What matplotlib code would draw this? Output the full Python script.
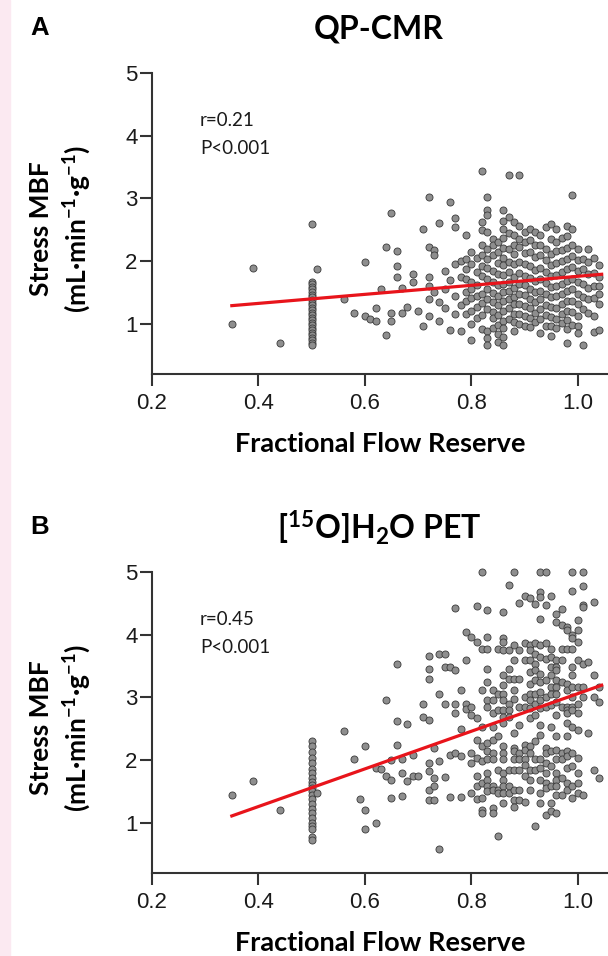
import matplotlib
matplotlib.use("Agg")
import numpy as np
import matplotlib.pyplot as plt
from matplotlib.patches import Rectangle

plt.rcParams["mathtext.fontset"] = "custom"
plt.rcParams["mathtext.rm"] = "Lato:bold"
plt.rcParams["mathtext.it"] = "Lato:bold:italic"
plt.rcParams["mathtext.bf"] = "Lato:bold"

# ── data: (FFR, stress MBF) ──
qp_points = [
    (0.35, 1.00), (0.39, 1.89), (0.44, 0.70),
    (0.50, 2.60), (0.50, 1.67), (0.50, 1.63), (0.50, 1.59), (0.50, 1.55), (0.50, 1.50),
    (0.50, 1.46), (0.50, 1.42), (0.50, 1.38), (0.50, 1.34), (0.50, 1.30), (0.50, 1.26),
    (0.50, 1.22), (0.50, 1.18), (0.50, 1.14), (0.50, 1.10), (0.50, 1.06), (0.50, 1.02),
    (0.50, 0.98), (0.50, 0.94), (0.50, 0.90), (0.50, 0.86), (0.50, 0.82), (0.50, 0.78),
    (0.50, 0.74), (0.50, 0.70), (0.50, 0.67), (0.51, 1.88),
    (0.56, 1.39), (0.58, 1.17), (0.60, 1.99), (0.60, 1.12), (0.61, 1.08), (0.62, 1.26),
    (0.62, 1.05), (0.63, 1.55), (0.64, 0.82), (0.64, 2.22), (0.65, 2.76), (0.65, 1.18),
    (0.65, 1.05), (0.66, 2.16), (0.66, 1.93), (0.66, 1.75), (0.67, 1.57), (0.67, 1.17),
    (0.68, 1.27), (0.69, 1.80), (0.69, 1.66), (0.70, 1.20), (0.71, 0.96), (0.71, 2.52),
    (0.72, 3.02), (0.72, 2.23), (0.72, 1.75), (0.72, 1.60), (0.72, 1.40), (0.72, 1.13),
    (0.73, 2.17), (0.73, 2.10), (0.73, 1.50), (0.74, 2.61), (0.74, 1.35), (0.74, 1.05),
    (0.75, 1.84), (0.75, 1.55), (0.75, 1.25), (0.76, 2.94), (0.76, 1.70), (0.76, 0.90),
    (0.77, 2.68), (0.77, 2.54), (0.77, 1.95), (0.77, 1.45), (0.77, 1.15), (0.78, 2.00),
    (0.78, 1.75), (0.78, 1.30), (0.78, 0.88),
    (0.79, 2.41), (0.79, 2.04), (0.79, 1.88), (0.79, 1.72), (0.79, 1.51), (0.79, 1.36), (0.79, 1.15),
    (0.80, 2.14), (0.80, 1.95), (0.80, 1.67), (0.80, 1.56), (0.80, 1.41), (0.80, 1.20),
    (0.80, 0.99), (0.80, 0.75),
    (0.81, 2.05), (0.81, 1.83), (0.81, 1.62), (0.81, 1.44), (0.81, 1.27), (0.81, 1.09),
    (0.82, 3.44), (0.82, 2.63), (0.82, 2.50), (0.82, 2.26), (0.82, 2.10), (0.82, 1.93),
    (0.82, 1.77), (0.82, 1.47), (0.82, 1.33), (0.82, 1.14), (0.82, 0.92),
    (0.83, 3.02), (0.83, 2.81), (0.83, 2.73), (0.83, 2.47), (0.83, 2.20), (0.83, 2.04),
    (0.83, 1.89), (0.83, 1.72), (0.83, 1.55), (0.83, 1.40), (0.83, 1.23), (0.83, 0.88),
    (0.83, 0.78), (0.83, 0.67),
    (0.84, 2.35), (0.84, 2.25), (0.84, 2.09), (0.84, 1.84), (0.84, 1.66), (0.84, 1.49),
    (0.84, 1.35), (0.84, 1.19), (0.84, 1.10), (0.84, 0.93),
    (0.85, 2.31), (0.85, 2.15), (0.85, 1.97), (0.85, 1.79), (0.85, 1.62), (0.85, 1.45),
    (0.85, 1.30), (0.85, 1.14), (0.85, 0.98), (0.85, 0.84), (0.85, 0.71),
    (0.86, 2.81), (0.86, 2.64), (0.86, 2.52), (0.86, 2.37), (0.86, 2.21), (0.86, 2.05),
    (0.86, 1.94), (0.86, 1.78), (0.86, 1.63), (0.86, 1.50), (0.86, 1.36), (0.86, 1.21),
    (0.86, 1.04), (0.86, 0.94), (0.86, 0.79), (0.86, 0.66),
    (0.87, 3.37), (0.87, 2.70), (0.87, 2.45), (0.87, 2.19), (0.87, 1.99), (0.87, 1.83),
    (0.87, 1.66), (0.87, 1.52), (0.87, 1.40), (0.87, 1.25), (0.87, 1.08),
    (0.88, 2.63), (0.88, 2.41), (0.88, 2.26), (0.88, 2.12), (0.88, 1.96), (0.88, 1.74),
    (0.88, 1.57), (0.88, 1.43), (0.88, 1.31), (0.88, 1.16), (0.88, 1.03), (0.88, 0.89),
    (0.89, 3.37), (0.89, 2.56), (0.89, 2.36), (0.89, 2.22), (0.89, 1.98), (0.89, 1.81),
    (0.89, 1.64), (0.89, 1.47), (0.89, 1.31), (0.89, 1.15), (0.89, 1.00),
    (0.90, 2.46), (0.90, 2.30), (0.90, 2.13), (0.90, 1.95), (0.90, 1.77), (0.90, 1.62),
    (0.90, 1.46), (0.90, 1.29), (0.90, 1.12), (0.90, 0.97),
    (0.91, 2.51), (0.91, 2.33), (0.91, 2.15), (0.91, 1.92), (0.91, 1.73), (0.91, 1.56),
    (0.91, 1.40), (0.91, 1.26), (0.91, 1.09), (0.91, 0.95),
    (0.92, 2.47), (0.92, 2.25), (0.92, 2.06), (0.92, 1.86), (0.92, 1.68), (0.92, 1.51),
    (0.92, 1.35), (0.92, 1.18), (0.92, 1.03),
    (0.93, 2.42), (0.93, 2.26), (0.93, 2.10), (0.93, 1.89), (0.93, 1.71), (0.93, 1.53),
    (0.93, 1.39), (0.93, 1.24), (0.93, 1.08), (0.93, 0.85),
    (0.94, 2.55), (0.94, 2.19), (0.94, 2.01), (0.94, 1.83), (0.94, 1.65), (0.94, 1.47),
    (0.94, 1.30), (0.94, 1.14), (0.94, 0.97),
    (0.95, 2.60), (0.95, 2.35), (0.95, 2.12), (0.95, 1.94), (0.95, 1.76), (0.95, 1.58),
    (0.95, 1.43), (0.95, 1.27), (0.95, 1.11), (0.95, 0.96), (0.95, 0.80),
    (0.96, 2.52), (0.96, 2.31), (0.96, 2.16), (0.96, 1.97), (0.96, 1.78), (0.96, 1.61),
    (0.96, 1.44), (0.96, 1.25), (0.96, 1.07), (0.96, 0.93),
    (0.97, 2.37), (0.97, 2.17), (0.97, 2.00), (0.97, 1.82), (0.97, 1.63), (0.97, 1.48),
    (0.97, 1.32), (0.97, 1.16), (0.97, 1.01),
    (0.98, 2.56), (0.98, 2.40), (0.98, 2.21), (0.98, 2.03), (0.98, 1.87), (0.98, 1.69),
    (0.98, 1.52), (0.98, 1.37), (0.98, 1.21), (0.98, 1.06), (0.98, 0.91), (0.98, 0.70),
    (0.99, 3.06), (0.99, 2.52), (0.99, 2.26), (0.99, 2.08), (0.99, 1.90), (0.99, 1.72),
    (0.99, 1.55), (0.99, 1.36), (0.99, 1.19), (0.99, 0.98),
    (1.00, 2.19), (1.00, 2.01), (1.00, 1.84), (1.00, 1.66), (1.00, 1.47), (1.00, 1.31),
    (1.00, 1.13), (1.00, 0.97), (1.00, 0.86),
    (1.01, 2.04), (1.01, 1.88), (1.01, 1.63), (1.01, 1.42), (1.01, 1.23), (1.01, 0.67),
    (1.02, 2.20), (1.02, 1.99), (1.02, 1.79), (1.02, 1.57), (1.02, 1.39), (1.02, 1.18),
    (1.03, 2.05), (1.03, 1.81), (1.03, 1.61), (1.03, 1.41), (1.03, 1.13), (1.03, 0.87),
    (1.04, 1.94), (1.04, 1.75), (1.04, 1.60), (1.04, 1.47), (1.04, 1.31), (1.04, 0.90),
]

pet_points = [
    (0.35, 1.44), (0.39, 1.66), (0.44, 1.21),
    (0.50, 2.30), (0.50, 2.22), (0.50, 2.13), (0.50, 2.04), (0.50, 1.95), (0.50, 1.86),
    (0.50, 1.80), (0.50, 1.72), (0.50, 1.65), (0.50, 1.60), (0.50, 1.55), (0.50, 1.50),
    (0.50, 1.45), (0.50, 1.38), (0.50, 1.30), (0.50, 1.22), (0.50, 1.15), (0.50, 1.07),
    (0.50, 1.00), (0.50, 0.95), (0.50, 0.90), (0.50, 0.78), (0.50, 0.72), (0.51, 1.48),
    (0.56, 2.46), (0.58, 2.02), (0.59, 1.38), (0.60, 2.23), (0.60, 1.20), (0.60, 0.90),
    (0.62, 1.00), (0.62, 1.87), (0.63, 1.86), (0.64, 2.96), (0.64, 1.75), (0.65, 2.00),
    (0.65, 1.69), (0.65, 1.40), (0.66, 3.53), (0.66, 2.63), (0.66, 2.24), (0.67, 2.02),
    (0.67, 1.80), (0.67, 1.42), (0.68, 2.57), (0.68, 1.67), (0.69, 2.08), (0.69, 1.74),
    (0.70, 1.75), (0.71, 2.90), (0.71, 2.69), (0.72, 2.64), (0.72, 3.66), (0.72, 3.46),
    (0.72, 3.30), (0.72, 1.96), (0.72, 1.82), (0.72, 1.53), (0.72, 1.37), (0.73, 2.19),
    (0.73, 1.71), (0.73, 1.58), (0.73, 1.37), (0.74, 3.05), (0.74, 1.98), (0.74, 0.58),
    (0.74, 3.70), (0.75, 3.70), (0.75, 2.90), (0.75, 1.73), (0.75, 3.49), (0.76, 3.49),
    (0.76, 2.08), (0.76, 1.41),
    (0.77, 4.43), (0.77, 3.43), (0.77, 2.90), (0.77, 2.75), (0.77, 2.11),
    (0.78, 3.12), (0.78, 2.49), (0.78, 2.06), (0.78, 1.41),
    (0.79, 4.04), (0.79, 3.59), (0.79, 2.90), (0.79, 2.81),
    (0.80, 3.96), (0.80, 2.85), (0.80, 2.72), (0.80, 2.11), (0.80, 1.95), (0.80, 1.48),
    (0.81, 4.45), (0.81, 3.88), (0.81, 2.67), (0.81, 2.32), (0.81, 2.03), (0.81, 1.74),
    (0.81, 1.58), (0.81, 1.38),
    (0.82, 5.00), (0.82, 3.78), (0.82, 3.12), (0.82, 2.53), (0.82, 2.22), (0.82, 1.98),
    (0.82, 1.63), (0.82, 1.40), (0.82, 1.21), (0.82, 1.16),
    (0.83, 4.39), (0.83, 3.97), (0.83, 3.78), (0.83, 3.46), (0.83, 3.25), (0.83, 2.96),
    (0.83, 2.85), (0.83, 2.27), (0.83, 2.14), (0.83, 2.01), (0.83, 1.79), (0.83, 1.69),
    (0.83, 1.58), (0.83, 1.50),
    (0.84, 3.12), (0.84, 2.96), (0.84, 2.75), (0.84, 2.53), (0.84, 2.32), (0.84, 2.11),
    (0.84, 2.01), (0.84, 1.58), (0.84, 1.53), (0.84, 1.24), (0.84, 1.16),
    (0.85, 3.77), (0.85, 3.06), (0.85, 2.80), (0.85, 2.38), (0.85, 1.85), (0.85, 1.53),
    (0.85, 1.48), (0.85, 0.79),
    (0.86, 4.36), (0.86, 3.95), (0.86, 3.88), (0.86, 3.75), (0.86, 3.35), (0.86, 3.20),
    (0.86, 3.06), (0.86, 2.96), (0.86, 2.80), (0.86, 2.69), (0.86, 2.59), (0.86, 2.22),
    (0.86, 2.11), (0.86, 2.01), (0.86, 1.79), (0.86, 1.69), (0.86, 1.58), (0.86, 1.48), (0.86, 1.32),
    (0.87, 4.80), (0.87, 3.76), (0.87, 3.46), (0.87, 3.30), (0.87, 2.90), (0.87, 2.80),
    (0.87, 2.69), (0.87, 1.85), (0.87, 1.58), (0.87, 1.48),
    (0.88, 5.00), (0.88, 3.83), (0.88, 3.59), (0.88, 3.30), (0.88, 3.12), (0.88, 2.98),
    (0.88, 2.43), (0.88, 2.19), (0.88, 2.14), (0.88, 2.01), (0.88, 1.85), (0.88, 1.53),
    (0.88, 1.37), (0.88, 1.26),
    (0.89, 4.50), (0.89, 3.75), (0.89, 3.30), (0.89, 2.85), (0.89, 2.56), (0.89, 2.11),
    (0.89, 2.01), (0.89, 1.85), (0.89, 1.53), (0.89, 1.37),
    (0.90, 4.62), (0.90, 3.86), (0.90, 3.59), (0.90, 3.01), (0.90, 2.85), (0.90, 2.24),
    (0.90, 2.16), (0.90, 2.01), (0.90, 1.93), (0.90, 1.74), (0.90, 1.34),
    (0.91, 4.59), (0.91, 3.83), (0.91, 3.75), (0.91, 3.59), (0.91, 3.41), (0.91, 3.22),
    (0.91, 3.06), (0.91, 2.96), (0.91, 2.83), (0.91, 2.67), (0.91, 2.22), (0.91, 2.11),
    (0.91, 1.85), (0.91, 1.69), (0.91, 1.53),
    (0.92, 4.49), (0.92, 3.86), (0.92, 3.70), (0.92, 3.54), (0.92, 3.43), (0.92, 3.28),
    (0.92, 3.06), (0.92, 2.90), (0.92, 2.72), (0.92, 2.30), (0.92, 2.01), (0.92, 1.85), (0.92, 0.95),
    (0.93, 5.00), (0.93, 4.68), (0.93, 4.60), (0.93, 4.25), (0.93, 3.83), (0.93, 3.65),
    (0.93, 3.38), (0.93, 3.25), (0.93, 3.09), (0.93, 2.96), (0.93, 2.83), (0.93, 2.56),
    (0.93, 2.40), (0.93, 2.01), (0.93, 1.87), (0.93, 1.69), (0.93, 1.48), (0.93, 1.32),
    (0.94, 5.00), (0.94, 4.47), (0.94, 3.86), (0.94, 3.62), (0.94, 3.28), (0.94, 3.01),
    (0.94, 2.85), (0.94, 2.19), (0.94, 2.11), (0.94, 1.95), (0.94, 1.79), (0.94, 1.63),
    (0.94, 1.56), (0.94, 1.13),
    (0.95, 4.62), (0.95, 3.78), (0.95, 3.65), (0.95, 3.49), (0.95, 3.35), (0.95, 3.17),
    (0.95, 3.06), (0.95, 2.88), (0.95, 2.53), (0.95, 2.14), (0.95, 1.90), (0.95, 1.58),
    (0.95, 1.32), (0.95, 1.19),
    (0.96, 4.33), (0.96, 4.20), (0.96, 3.59), (0.96, 3.49), (0.96, 3.43), (0.96, 3.28),
    (0.96, 3.17), (0.96, 3.06), (0.96, 2.93), (0.96, 2.72), (0.96, 2.38), (0.96, 2.16),
    (0.96, 2.01), (0.96, 1.79), (0.96, 1.69), (0.96, 1.58), (0.96, 1.45), (0.96, 1.16),
    (0.97, 4.41), (0.97, 4.15), (0.97, 3.78), (0.97, 3.59), (0.97, 3.25), (0.97, 2.85),
    (0.97, 2.11), (0.97, 2.01), (0.97, 1.71), (0.97, 1.45),
    (0.98, 4.12), (0.98, 4.07), (0.98, 3.78), (0.98, 3.22), (0.98, 3.12), (0.98, 2.85),
    (0.98, 2.80), (0.98, 2.75), (0.98, 2.59), (0.98, 2.38), (0.98, 2.14), (0.98, 2.06),
    (0.98, 1.87), (0.98, 1.63), (0.98, 1.53),
    (0.99, 5.00), (0.99, 4.70), (0.99, 3.99), (0.99, 3.94), (0.99, 3.78), (0.99, 3.49),
    (0.99, 3.35), (0.99, 3.17), (0.99, 3.01), (0.99, 2.85), (0.99, 2.80), (0.99, 2.53),
    (0.99, 2.11), (0.99, 1.90), (0.99, 1.58), (0.99, 1.40),
    (1.00, 4.23), (1.00, 4.07), (1.00, 3.88), (1.00, 3.59), (1.00, 3.17), (1.00, 2.90),
    (1.00, 2.75), (1.00, 2.48), (1.00, 2.03), (1.00, 1.79), (1.00, 1.63), (1.00, 1.48),
    (1.01, 5.00), (1.01, 4.77), (1.01, 4.47), (1.01, 4.44), (1.01, 3.54), (1.01, 3.17),
    (1.01, 3.01), (1.01, 1.45),
    (1.02, 3.57), (1.02, 2.43),
    (1.03, 4.52), (1.03, 3.35), (1.03, 3.01), (1.03, 1.85),
    (1.04, 3.17), (1.04, 2.93), (1.04, 1.71),
]

# regression lines (slope, intercept) and the FFR span they cover
qp_fit = (0.72, 1.038)
pet_fit = (3.00, 0.06)
fit_span = (0.35, 1.045)

qp_stats = ["r=0.21", "P<0.001"]
pet_stats = ["r=0.45", "P<0.001"]

x_ticks = [0.2, 0.4, 0.6, 0.8, 1.0]
x_ticklabels = ["0.2", "0.4", "0.6", "0.8", "1.0"]
y_ticks = [1, 2, 3, 4, 5]

W, H = 608, 956
fig = plt.figure(figsize=(W / 100, H / 100), dpi=100)
fig.patches.append(Rectangle((0, 0), 10 / W, 1, transform=fig.transFigure,
                             color="#fbe9f1", zorder=0))

AX = "#333333"
TICK_FONT = "Liberation Sans"
LAB_FONT = "Lato"


def draw_panel(top_px, points, fit, stats, letter, title):
    bottom_px = top_px + 301
    ax = fig.add_axes([152 / W, 1 - bottom_px / H, 455 / W, 301 / H])
    x, y = zip(*points)
    ax.scatter(x, y, s=26, facecolor="#8e8e8e", edgecolor="#3a3a3a",
               linewidths=0.6, clip_on=False, zorder=2)
    slope, icpt = fit
    xf = np.array(fit_span)
    ax.plot(xf, icpt + slope * xf, color="#e8141b", lw=2.3, zorder=3)

    ax.set_xlim(0.2, 1.055)
    ax.set_ylim(0.2, 5.0)
    ax.set_xticks(x_ticks)
    ax.set_xticklabels(x_ticklabels)
    ax.set_yticks(y_ticks)
    for s in ("top", "right"):
        ax.spines[s].set_visible(False)
    for s in ("left", "bottom"):
        ax.spines[s].set_linewidth(1.5)
        ax.spines[s].set_color(AX)
    ax.tick_params(axis="both", direction="out", length=8.5, width=1.5,
                   color=AX, labelcolor="#1a1a1a", labelsize=16)
    ax.tick_params(axis="x", pad=5)
    ax.tick_params(axis="y", pad=2)
    for lab in ax.get_xticklabels() + ax.get_yticklabels():
        lab.set_fontfamily(TICK_FONT)

    ax.text(0.29, 4.24, stats[0], fontsize=13.5, family=LAB_FONT,
            va="center", ha="left", color="#1a1a1a")
    ax.text(0.29, 3.79, stats[1], fontsize=13.5, family=LAB_FONT,
            va="center", ha="left", color="#1a1a1a")

    off = top_px - 73
    fig.text(40 / W, 1 - (28 + off) / H, letter, fontsize=18.5, fontweight="bold",
             family=TICK_FONT, ha="center", va="center")
    fig.text(379 / W, 1 - (29 + off) / H, title, fontsize=23, fontweight="bold",
             family=LAB_FONT, ha="center", va="center")
    fig.text(61 / W, 1 - (229 + off) / H,
             "Stress MBF\n(mL·min$^{-1}$·g$^{-1}$)", rotation=90,
             fontsize=19, fontweight="bold", family=LAB_FONT, ha="center",
             va="center", multialignment="center", linespacing=1.3)
    fig.text(380 / W, 1 - (444 + off) / H, "Fractional Flow Reserve",
             fontsize=19.5, fontweight="bold", family=LAB_FONT,
             ha="center", va="center")
    return ax


draw_panel(73, qp_points, qp_fit, qp_stats, "A", "QP-CMR")
draw_panel(572, pet_points, pet_fit, pet_stats, "B", "[$^{15}$O]H$_2$O PET")

fig.savefig("out.png", dpi=100)
